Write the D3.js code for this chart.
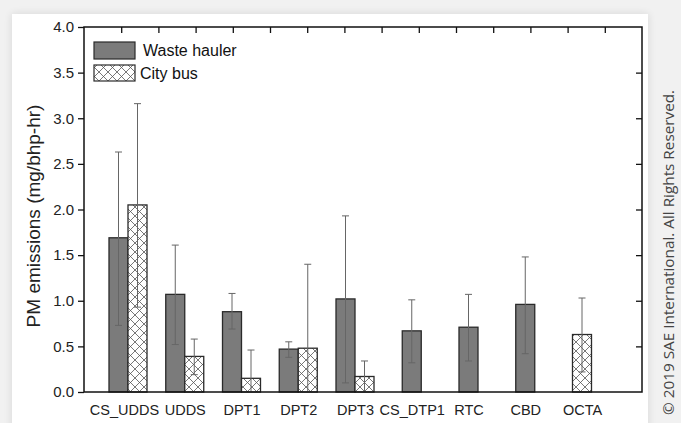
<!DOCTYPE html>
<html>
<head>
<meta charset="utf-8">
<script src="https://cdn.jsdelivr.net/npm/d3@7"></script>
<style>
  html, body { margin: 0; padding: 0; background: #f1f1f1; }
  svg { display: block; }
</style>
</head>
<body>
<svg id="chart" width="681" height="423"></svg>
<script>
const categories = ["CS_UDDS", "UDDS", "DPT1", "DPT2", "DPT3", "CS_DTP1", "RTC", "CBD", "OCTA"];
const wasteHauler = [1.69, 1.07, 0.88, 0.47, 1.02, 0.67, 0.71, 0.96, null];
const wasteUpper  = [2.63, 1.61, 1.08, 0.55, 1.93, 1.01, 1.07, 1.48, null];
const wasteLower  = [0.73, 0.52, 0.69, 0.38, 0.10, 0.32, 0.34, 0.42, null];
const cityBus     = [2.05, 0.39, 0.15, 0.48, 0.17, null, null, null, 0.63];
const cityUpper   = [3.16, 0.58, 0.46, 1.40, 0.34, null, null, null, 1.03];
const cityLower   = [0.93, 0.19, 0.00, 0.00, 0.00, null, null, null, 0.22];
const yTicks = [0.0, 0.5, 1.0, 1.5, 2.0, 2.5, 3.0, 3.5, 4.0];
const seriesNames = ["Waste hauler", "City bus"];

(function () {
const svg = d3.select("#chart");

const defs = svg.append("defs");
const flt = defs.append("filter").attr("id", "shadow").attr("x", "-5%").attr("y", "-5%").attr("width", "110%").attr("height", "110%");
flt.append("feGaussianBlur").attr("in", "SourceAlpha").attr("stdDeviation", 4);
flt.append("feComponentTransfer").append("feFuncA").attr("type", "linear").attr("slope", 0.12);
const fm = flt.append("feMerge");
fm.append("feMergeNode");
fm.append("feMergeNode").attr("in", "SourceGraphic");

svg.append("rect").attr("x", 0).attr("y", 0).attr("width", 681).attr("height", 423).attr("fill", "#f1f1f1");
svg.append("rect").attr("x", 12).attr("y", 14).attr("width", 636).attr("height", 430)
  .attr("fill", "#ffffff").attr("filter", "url(#shadow)");

const pat = defs.append("pattern").attr("id", "xhatch").attr("patternUnits", "userSpaceOnUse")
  .attr("width", 9).attr("height", 9);
pat.append("rect").attr("width", 9).attr("height", 9).attr("fill", "#fff");
pat.append("path").attr("d", "M0,0 L9,9 M9,0 L0,9 M-1,8 L1,10 M8,-1 L10,1 M-1,1 L1,-1 M8,10 L10,8")
  .attr("stroke", "#555").attr("stroke-width", 0.8).attr("fill", "none");

const pLeft = 84, pRight = 642, pTop = 27, pBottom = 392;

const y = d3.scaleLinear().domain([0, 4]).range([pBottom, pTop]);
const x = d3.scalePoint().domain(categories).range([128, 582]);
const xTop = d3.scaleLinear().domain([0, 15]).range([pLeft, pRight]);
const barW = 19;

const font = "'Liberation Sans', Arial, sans-serif";

const g = svg.append("g");
categories.forEach((c, i) => {
  const cx = x(c);
  const hasW = wasteHauler[i] != null, hasC = cityBus[i] != null;
  const both = hasW && hasC;
  if (hasW) {
    const x0 = both ? cx - barW : cx - barW / 2;
    g.append("rect").attr("x", x0).attr("y", y(wasteHauler[i])).attr("width", barW)
      .attr("height", y(0) - y(wasteHauler[i])).attr("fill", "#7b7b7b")
      .attr("stroke", "#2a2a2a").attr("stroke-width", 1.3);
  }
  if (hasC) {
    const x0 = both ? cx : cx - barW / 2;
    g.append("rect").attr("x", x0).attr("y", y(cityBus[i])).attr("width", barW)
      .attr("height", y(0) - y(cityBus[i])).attr("fill", "url(#xhatch)")
      .attr("stroke", "#2a2a2a").attr("stroke-width", 1.3);
  }
});

function errBar(xc, lo, hi) {
  const eg = svg.append("g").attr("stroke", "#666").attr("stroke-width", 1);
  eg.append("line").attr("x1", xc).attr("x2", xc).attr("y1", y(hi)).attr("y2", y(lo));
  eg.append("line").attr("x1", xc - 3.5).attr("x2", xc + 3.5).attr("y1", y(hi)).attr("y2", y(hi));
  if (lo > 0) eg.append("line").attr("x1", xc - 3.5).attr("x2", xc + 3.5).attr("y1", y(lo)).attr("y2", y(lo));
}
categories.forEach((c, i) => {
  const cx = x(c);
  const hasW = wasteHauler[i] != null, hasC = cityBus[i] != null;
  const both = hasW && hasC;
  if (hasW) errBar(both ? cx - barW / 2 : cx, wasteLower[i], wasteUpper[i]);
  if (hasC) errBar(both ? cx + barW / 2 : cx, cityLower[i], cityUpper[i]);
});

svg.append("rect").attr("x", pLeft).attr("y", pTop).attr("width", pRight - pLeft).attr("height", pBottom - pTop)
  .attr("fill", "none").attr("stroke", "#111").attr("stroke-width", 1.5);

const yAxis = d3.axisLeft(y).tickValues(yTicks).tickFormat(d3.format(".1f")).tickSize(6).tickPadding(4);
const ya = svg.append("g").attr("transform", `translate(${pLeft},0)`).call(yAxis);
ya.select(".domain").remove();
ya.selectAll("line").attr("stroke", "#111").attr("stroke-width", 1.3);
ya.selectAll("text").attr("font-family", font).attr("font-size", 15).attr("fill", "#222");

const yr = svg.append("g").attr("transform", `translate(${pRight},0)`)
  .call(d3.axisLeft(y).tickValues(yTicks.slice(1, -1)).tickFormat("").tickSize(6));
yr.select(".domain").remove();
yr.selectAll("line").attr("stroke", "#111").attr("stroke-width", 1.3);

const xt = svg.append("g").attr("transform", `translate(0,${pTop})`)
  .call(d3.axisBottom(xTop).tickValues(d3.range(1, 15)).tickFormat("").tickSize(6));
xt.select(".domain").remove();
xt.selectAll("line").attr("stroke", "#111").attr("stroke-width", 1.3);

const xb = svg.append("g").attr("transform", `translate(0,${pBottom})`)
  .call(d3.axisBottom(x).tickSize(0).tickPadding(13));
xb.select(".domain").remove();
xb.selectAll("text").attr("font-family", font).attr("font-size", 14.5).attr("fill", "#222")
  .attr("dx", (d, i) => i === 0 ? -4 : 0);

svg.append("text").attr("transform", `translate(40,216) rotate(-90)`)
  .attr("text-anchor", "middle").attr("font-family", font).attr("font-size", 19).attr("fill", "#222")
  .text("PM emissions (mg/bhp-hr)");

const lg = svg.append("g");
const legendFills = ["#7b7b7b", "url(#xhatch)"];
seriesNames.forEach((name, i) => {
  const ly = 42 + i * 23;
  lg.append("rect").attr("x", 94).attr("y", ly).attr("width", 41).attr("height", i === 0 ? 17 : 16)
    .attr("fill", legendFills[i]).attr("stroke", "#2a2a2a").attr("stroke-width", 1.2);
  lg.append("text").attr("x", i === 0 ? 143 : 140).attr("y", ly + 14).attr("font-family", font)
    .attr("font-size", 16).attr("fill", "#111").text(name);
});

svg.append("text").attr("transform", "translate(674,415) rotate(-90)")
  .attr("font-family", "'Open Sans', 'Noto Sans', sans-serif").attr("font-size", 15.3).attr("fill", "#444")
  .text("© 2019 SAE International. All Rights Reserved.");
})();
</script>
</body>
</html>
